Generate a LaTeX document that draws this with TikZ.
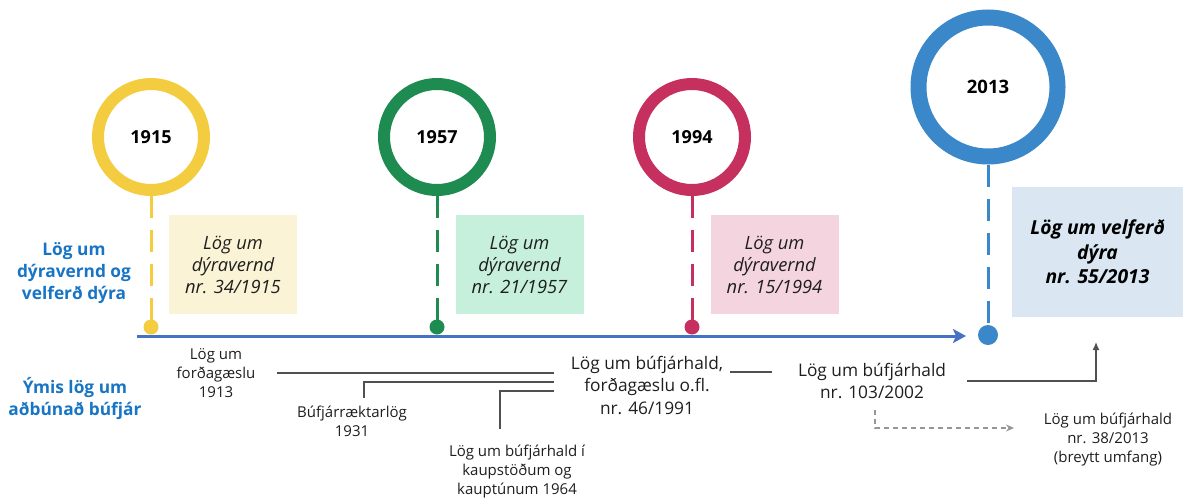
\documentclass[tikz,border=0pt]{standalone}
\usepackage{fontspec}
\setmainfont{Open Sans}
\usetikzlibrary{arrows.meta}

\definecolor{cyellow}{RGB}{244,204,64}
\definecolor{cgreen}{RGB}{30,139,80}
\definecolor{cpink}{RGB}{198,48,94}
\definecolor{cblue}{RGB}{58,136,201}
\definecolor{fyellow}{RGB}{251,243,213}
\definecolor{fgreen}{RGB}{198,240,219}
\definecolor{fpink}{RGB}{244,212,222}
\definecolor{fblue}{RGB}{218,231,243}
\definecolor{axisblue}{RGB}{68,114,196}
\definecolor{headblue}{RGB}{24,116,196}
\definecolor{linkgray}{RGB}{80,80,80}
\definecolor{dashgray}{RGB}{150,150,150}
\definecolor{txt}{RGB}{30,30,30}

\tikzset{
  yearring/.style={circle, draw=#1, line width=12pt, minimum size=106pt, inner sep=0pt,
    fill=white, text=black, font=\fontsize{18}{20}\selectfont\bfseries},
  stem/.style={draw=#1, line width=3pt, dash pattern=on 22pt off 12pt},
  dot/.style={circle, fill=#1, inner sep=0pt, minimum size=15pt},
  lawbox/.style={fill=#1, minimum width=128pt, minimum height=99pt, inner sep=0pt,
    align=center, text=txt, font=\fontsize{18.3}{22}\selectfont\itshape},
  rowhead/.style={align=center, text=headblue, font=\fontsize{17.3}{22}\selectfont\bfseries},
  note/.style={align=center, text=txt, font=\fontsize{15}{19}\selectfont},
  bignote/.style={align=center, text=txt, font=\fontsize{17.3}{22.5}\selectfont},
  link/.style={draw=linkgray, line width=1.3pt},
}

\begin{document}
\begin{tikzpicture}[x=1pt,y=-1pt]
\useasboundingbox (0,0) rectangle (1184,498);

% row headings
\node[rowhead] (hA) at (74,273) {Lög um\\dýravernd og\\velferð dýra};
\node[rowhead] (hB) at (75,399) {Ýmis lög um\\aðbúnað búfjár};

% main axis
\coordinate (axL) at (137,336);
\coordinate (axR) at (966,336);
\draw[axisblue, line width=3pt, -{Stealth[length=13pt,width=14pt,inset=3pt]}] (axL) -- (axR);

% milestones on the axis
\node[yearring=cyellow] (y1915) at (151,137) {1915};
\node[yearring=cgreen]  (y1957) at (437,137) {1957};
\node[yearring=cpink]   (y1994) at (692,137) {1994};
\node[yearring=cblue, line width=16pt, minimum size=139pt, font=\fontsize{18.5}{20}\selectfont\bfseries] (y2013) at (988,87) {2013};

\node[dot=cyellow] (d1915) at (151,327) {};
\node[dot=cgreen]  (d1957) at (437,327) {};
\node[dot=cpink]   (d1994) at (692,327) {};
\node[dot=cblue, minimum size=20pt] (d2013) at (988,335) {};

\draw[stem=cyellow] (y1915.south) -- (d1915.center);
\draw[stem=cgreen]  (y1957.south) -- (d1957.center);
\draw[stem=cpink]   (y1994.south) -- (d1994.center);
\draw[stem=cblue]   (y2013.south) -- (d2013.center);

% acts on animal protection
\node[lawbox=fyellow] (b1915) at (233,264.5) {Lög um\\dýravernd\\nr. 34/1915};
\node[lawbox=fgreen]  (b1957) at (519.5,264.5) {Lög um\\dýravernd\\nr. 21/1957};
\node[lawbox=fpink]   (b1994) at (774.5,264.5) {Lög um\\dýravernd\\nr. 15/1994};
\node[fill=fblue, minimum width=171pt, minimum height=130pt, inner sep=0pt, align=center,
      text=black, font=\fontsize{19.3}{24.5}\selectfont\bfseries\itshape] (b2013) at (1097.5,252)
      {Lög um velferð\\dýra\\nr. 55/2013};

% livestock acts
\node[note] (n1913) at (216,373) {Lög um\\forðagæslu\\1913};
\node[note] (n1931) at (352,421) {Búfjárræktarlög\\1931};
\node[note] (n1964) at (517,472) {Lög um búfjárhald í\\kaupstöðum og\\kauptúnum 1964};
\node[bignote] (n1991) at (647,385) {Lög um búfjárhald,\\forðagæslu o.fl.\\nr. 46/1991};
\node[bignote] (n2002) at (872,381) {Lög um búfjárhald\\nr. 103/2002};
\node[note] (n2013) at (1108,440) {Lög um búfjárhald\\nr. 38/2013\\(breytt umfang)};

% merging lines into the 1991 act
\coordinate (m1913a) at (277,373);
\coordinate (m1913b) at (554,373);
\coordinate (m1931a) at (364,398);
\coordinate (m1931b) at (554,382);
\coordinate (m1964a) at (500,429);
\coordinate (m1964b) at (554,391);
\draw[link] (m1913a) -- (m1913b);
\draw[link] (m1931a) |- (m1931b);
\draw[link] (m1964a) |- (m1964b);

\coordinate (m1991a) at (730,372);
\coordinate (m1991b) at (772,372);
\draw[link] (m1991a) -- (m1991b);

% from the 2002 act to the 2013 acts
\coordinate (m2002a) at (967,381);
\coordinate (m2002b) at (1096,342);
\draw[link, -{Latex[length=8pt,width=7pt]}] (m2002a) -| (m2002b);

\coordinate (m2002c) at (875,410);
\coordinate (m2002d) at (1014,428);
\draw[dashgray, line width=1.2pt, dash pattern=on 5pt off 4pt,
      -{Stealth[length=8pt,width=7pt]}] (m2002c) |- (m2002d);
\end{tikzpicture}
\end{document}
